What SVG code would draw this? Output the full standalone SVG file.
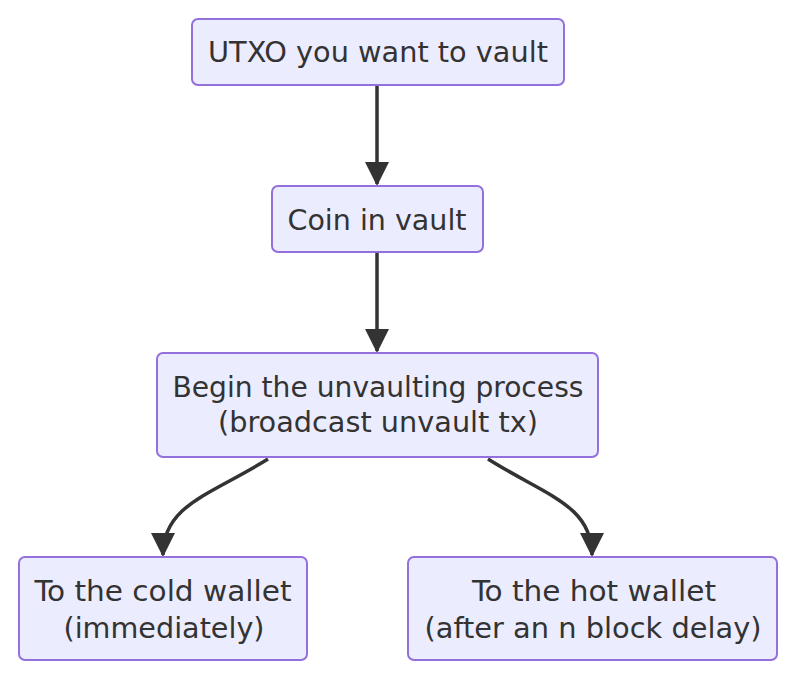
<svg xmlns="http://www.w3.org/2000/svg" width="796" height="682" viewBox="0 0 796 682">
<defs>
<style>
.node rect{fill:#ECECFF;stroke:#9370DB;stroke-width:2}
.node text{font-family:"DejaVu Sans Condensed","DejaVu Sans",sans-serif;font-size:29px;fill:#333;text-anchor:middle}
.edge{fill:none;stroke:#333;stroke-width:3.5}
</style>
<marker id="arr" viewBox="0 0 12 12" refX="11" refY="6" markerWidth="7" markerHeight="7" markerUnits="strokeWidth" orient="auto">
<path d="M0,0 L12,6 L0,12 z" fill="#333"/>
</marker>
</defs>
<rect width="796" height="682" fill="#fff"/>
<g id="edges">
<path class="edge" d="M377,85 L377,184" marker-end="url(#arr)"/>
<path class="edge" d="M377,252 L377,351" marker-end="url(#arr)"/>
<path class="edge" d="M268,459 C210,495 163,505 163,555" marker-end="url(#arr)"/>
<path class="edge" d="M488,459 C545,495 592,505 592,555" marker-end="url(#arr)"/>
</g>
<g id="n1" class="node"><rect x="192" y="19" width="372" height="66" rx="6"/><text x="378" y="62" textLength="340" lengthAdjust="spacingAndGlyphs">UTXO you want to vault</text></g>
<g id="n2" class="node"><rect x="272" y="186" width="211" height="66" rx="6"/><text x="377" y="230" textLength="179" lengthAdjust="spacingAndGlyphs">Coin in vault</text></g>
<g id="n3" class="node"><rect x="157" y="353" width="441" height="104" rx="6"/><text x="378" y="397" textLength="411" lengthAdjust="spacingAndGlyphs">Begin the unvaulting process</text><text x="378" y="432" textLength="320" lengthAdjust="spacingAndGlyphs">(broadcast unvault tx)</text></g>
<g id="n4" class="node"><rect x="19" y="557" width="288" height="103" rx="6"/><text x="163" y="601" textLength="257" lengthAdjust="spacingAndGlyphs">To the cold wallet</text><text x="164" y="638" textLength="201" lengthAdjust="spacingAndGlyphs">(immediately)</text></g>
<g id="n5" class="node"><rect x="408" y="557" width="369" height="103" rx="6"/><text x="594" y="601" textLength="244" lengthAdjust="spacingAndGlyphs">To the hot wallet</text><text x="593" y="638" textLength="337" lengthAdjust="spacingAndGlyphs">(after an n block delay)</text></g>
</svg>
